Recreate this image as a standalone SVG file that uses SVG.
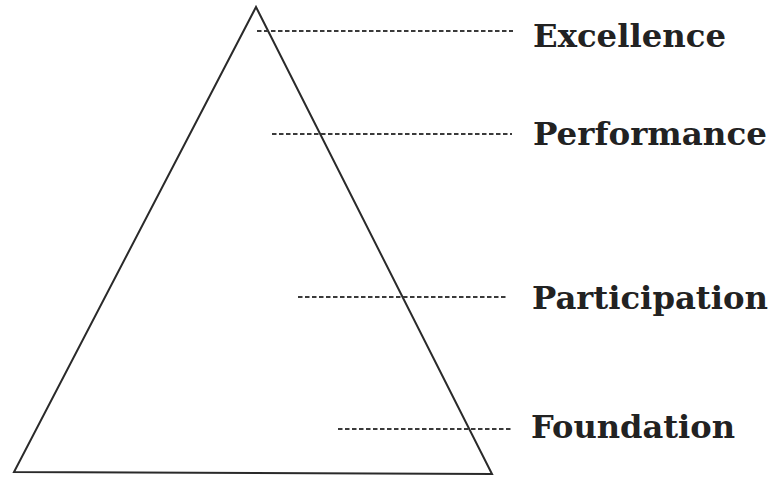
<svg xmlns="http://www.w3.org/2000/svg" width="772" height="478" viewBox="0 0 772 478">
<style>
.tri{fill:none;stroke:#2a2a2a;stroke-width:2;stroke-linejoin:miter}
.dash{stroke:#3a3a3a;stroke-width:1.8;stroke-dasharray:4.5 2.5;fill:none}
.lbl{font-family:"DejaVu Serif","Liberation Serif",serif;font-weight:bold;font-size:32px;fill:#222}
</style>
<rect width="772" height="478" fill="#fff"/>
<g id="pyramid">
<polygon class="tri" points="256,7 14,472 492,474"/>
</g>
<g id="connectors">
<line class="dash" x1="257" y1="31" x2="513" y2="31"/>
<line class="dash" x1="272" y1="134" x2="512" y2="134"/>
<line class="dash" x1="298" y1="297" x2="508" y2="297"/>
<line class="dash" x1="338" y1="429" x2="513" y2="429"/>
</g>
<g id="excellence"><text class="lbl" x="533" y="47" textLength="193" lengthAdjust="spacingAndGlyphs">Excellence</text></g>
<g id="performance"><text class="lbl" x="533" y="145" textLength="234" lengthAdjust="spacingAndGlyphs">Performance</text></g>
<g id="participation"><text class="lbl" x="532" y="309" textLength="236" lengthAdjust="spacingAndGlyphs">Participation</text></g>
<g id="foundation"><text class="lbl" x="531" y="438" textLength="204" lengthAdjust="spacingAndGlyphs">Foundation</text></g>
</svg>
